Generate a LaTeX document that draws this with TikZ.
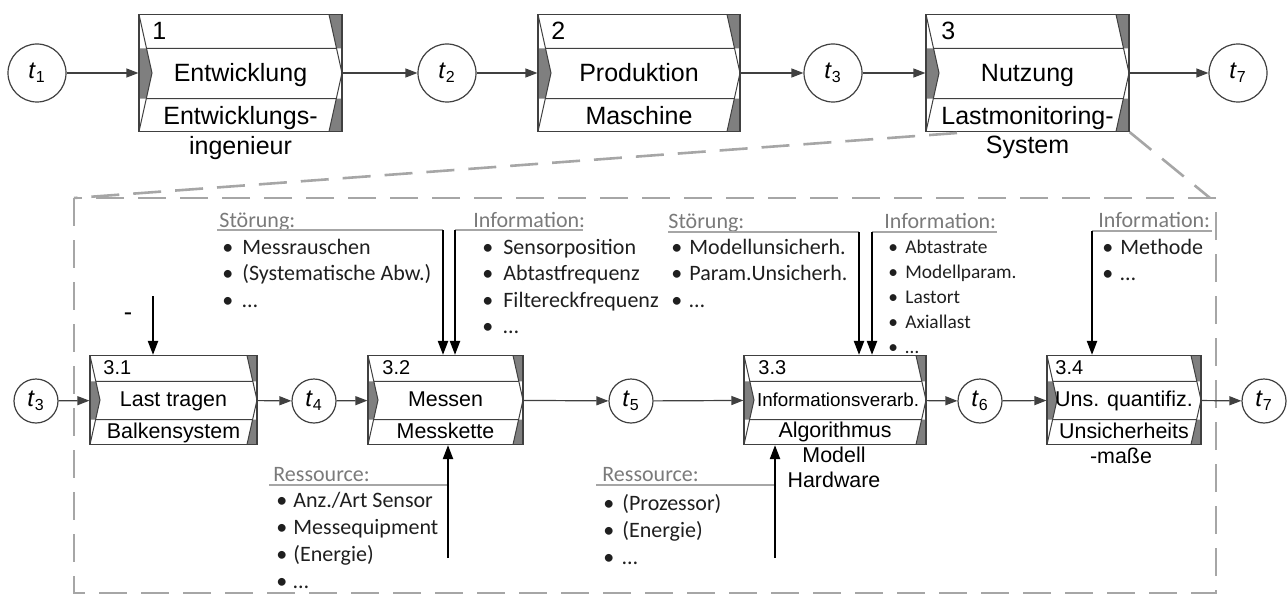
\documentclass[tikz,border=0pt]{standalone}
\usepackage{fontspec}
\setmainfont{Liberation Sans}
\newfontfamily\listfont{Carlito}
\usetikzlibrary{arrows.meta,calc,positioning}

\definecolor{rahmen}{HTML}{404040}
\definecolor{keilgrau}{HTML}{7F7F7F}
\definecolor{lupengrau}{HTML}{A6A6A6}
\definecolor{kopfgrau}{HTML}{7A7A7A}

\newcommand{\pkt}[1][9.5pt]{\makebox[#1][l]{\textbullet}}

\tikzset{
  funktion/.style={draw=rahmen, line width=0.6pt, fill=white, inner sep=0pt,
    path picture={
      \fill[keilgrau] let \p1=(path picture bounding box.north west),
                          \p2=(path picture bounding box.south east),
                          \p3=($(\p1)!.29!(\x1,\y2)$),
                          \p4=($(\p1)!.72!(\x1,\y2)$),
                          \p5=($(\p1)!.5!(\x1,\y2)$) in
        (\x1,\y3) -- ({\x1+.58*#1},\y3) -- ({\x1+#1},\y5) -- ({\x1+.56*#1},\y4) -- (\x1,\y4) -- cycle
        ({\x2-#1},\y1) -- (\x2,\y1) -- (\x2,\y3) -- ({\x2-.42*#1},\y3) -- cycle
        ({\x2-.44*#1},\y4) -- (\x2,\y4) -- (\x2,\y2) -- ({\x2-#1},\y2) -- cycle;
      \draw[rahmen, line width=0.5pt] let \p1=(path picture bounding box.north west),
                          \p2=(path picture bounding box.south east),
                          \p3=($(\p1)!.29!(\x1,\y2)$),
                          \p4=($(\p1)!.72!(\x1,\y2)$),
                          \p5=($(\p1)!.5!(\x1,\y2)$) in
        (\x1,\y1) -- ({\x1+#1},\y5) -- (\x1,\y2)
        ({\x2-#1},\y1) -- (\x2,\y5) -- ({\x2-#1},\y2)
        ({\x1+.58*#1},\y3) -- ({\x2-.42*#1},\y3)
        ({\x1+.56*#1},\y4) -- ({\x2-.44*#1},\y4);
    }},
  ereignis/.style={circle, draw=rahmen, line width=0.6pt, fill=white, inner sep=0pt,
    minimum size=#1, font=\fontsize{12}{14}\selectfont},
  pfeil/.style={draw=rahmen, line width=0.6pt, -{Triangle[length=6pt,width=4.5pt]}},
  zufluss/.style={black, line width=1.1pt, -{Triangle[length=7pt,width=5pt]}},
  lupe/.style={lupengrau, line width=1.3pt, dash pattern=on 14pt off 7pt},
  strich/.style={lupengrau, line width=0.7pt},
  nummer/.style={font=\fontsize{12.5}{14}\selectfont, inner sep=0pt, anchor=base west},
  titel/.style={font=\fontsize{12.5}{14}\selectfont, inner sep=0pt, anchor=base},
  nummerk/.style={font=\fontsize{10}{12}\selectfont, inner sep=0pt, anchor=base west},
  titelk/.style={font=\fontsize{10.7}{12}\selectfont, inner sep=0pt, anchor=base},
  kopf/.style={font=\listfont\fontsize{11}{13}\selectfont, text=kopfgrau, inner sep=0pt, anchor=base west},
  % base anchor = Grundlinie der letzten Zeile
  liste/.style={font=\listfont\fontsize{11}{13.25}\selectfont, text=black!88, align=left,
    inner sep=0pt, anchor=base west},
}

\begin{document}
\begin{tikzpicture}[x=0.5pt, y=-0.5pt]
  \useasboundingbox (0,0) rectangle (1288,599);

  % obere Ebene
  \node[ereignis=29pt] (t1) at (37,73) {\textit{t}\textsubscript{1}};
  \node[funktion=6.5pt, minimum width=101.5pt, minimum height=58.5pt] (f1) at (240.5,73) {};
  \node[ereignis=29pt] (t2) at (447,73) {\textit{t}\textsubscript{2}};
  \node[funktion=6.5pt, minimum width=101pt, minimum height=58.5pt] (f2) at (639,73) {};
  \node[ereignis=29pt] (t3) at (833,73) {\textit{t}\textsubscript{3}};
  \node[funktion=6.5pt, minimum width=101.5pt, minimum height=58.5pt] (f3) at (1027.5,73) {};
  \node[ereignis=29pt] (t7) at (1238,73) {\textit{t}\textsubscript{7}};

  \node[nummer] (n1) at (152,40) {1};
  \node[titel] (a1) at (240.5,82) {Entwicklung};
  \node[titel] (r1) at (240.5,124) {Entwicklungs-};
  \node[titel] (r1b) at (240.5,154) {ingenieur};
  \node[nummer] (n2) at (551,40) {2};
  \node[titel] (a2) at (639,82) {Produktion};
  \node[titel] (r2) at (639,124) {Maschine};
  \node[nummer] (n3) at (941,40) {3};
  \node[titel] (a3) at (1027.5,82) {Nutzung};
  \node[titel] (r3) at (1027.5,124) {Lastmonitoring-};
  \node[titel] (r3b) at (1027.5,153) {System};

  \draw[pfeil] (t1) -- (f1);
  \draw[pfeil] (f1) -- (t2);
  \draw[pfeil] (t2) -- (f2);
  \draw[pfeil] (f2) -- (t3);
  \draw[pfeil] (t3) -- (f3);
  \draw[pfeil] (f3) -- (t7);

  % Lupe auf 3
  \coordinate (lo) at (74,198);
  \coordinate (ro) at (1216,198);
  \draw[lupe] (957,133) -- (lo);
  \draw[lupe] (f3.south east) -- (1210,198);
  \draw[lupe] (lo) -- (74,593) -- (1216,593) -- (ro) -- cycle;

  % untere Ebene
  \node[ereignis=22pt] (t3u) at (36,401) {\textit{t}\textsubscript{3}};
  \node[funktion=5pt, minimum width=83.5pt, minimum height=44.5pt] (f31) at (173.5,400) {};
  \node[ereignis=22pt] (t4) at (314,401) {\textit{t}\textsubscript{4}};
  \node[funktion=5pt, minimum width=77.5pt, minimum height=44.5pt] (f32) at (445.5,400) {};
  \node[ereignis=22pt] (t5) at (631,401) {\textit{t}\textsubscript{5}};
  \node[funktion=5pt, minimum width=91pt, minimum height=44.5pt] (f33) at (835,400) {};
  \node[ereignis=22pt] (t6) at (980,401) {\textit{t}\textsubscript{6}};
  \node[funktion=5pt, minimum width=77pt, minimum height=44.5pt] (f34) at (1124,400) {};
  \node[ereignis=22pt] (t7u) at (1264,401) {\textit{t}\textsubscript{7}};

  \node[nummerk] (n31) at (103,374) {3.1};
  \node[titelk] (a31) at (173.5,406) {Last tragen};
  \node[titelk] (r31) at (173.5,438) {Balkensystem};
  \node[nummerk] (n32) at (382,374) {3.2};
  \node[titelk] (a32) at (445.5,406) {Messen};
  \node[titelk] (r32) at (445.5,438) {Messkette};
  \node[nummerk] (n33) at (758,374) {3.3};
  \node[titelk, font=\fontsize{9.4}{11}\selectfont] (a33) at (838,406) {Informationsverarb.};
  \node[titelk] (r33) at (835,437) {Algorithmus};
  \node[titelk] (r33b) at (834,462) {Modell};
  \node[titelk] (r33c) at (834,487) {Hardware};
  \node[nummerk] (n34) at (1055,374) {3.4};
  \node[titelk] (a34) at (1124,406) {Uns. quantifiz.};
  \node[titelk] (r34) at (1124,438) {Unsicherheits};
  \node[titelk] (r34b) at (1121,463) {-maße};

  \draw[pfeil] (t3u) -- (f31);
  \draw[pfeil] (f31) -- (t4);
  \draw[pfeil] (t4) -- (f32);
  \draw[pfeil] (f32) -- (t5);
  \draw[pfeil] (t5) -- (f33);
  \draw[pfeil] (f33) -- (t6);
  \draw[pfeil] (t6) -- (f34);
  \draw[pfeil] (f34) -- (t7u);

  % Eingaenge oben
  \node[titel] (leer) at (128,320) {-};
  \coordinate (e31) at (153,296);
  \draw[zufluss] (e31) -- (e31 |- f31.north);

  \node[kopf] (h1) at (219,227) {Störung:};
  \coordinate (s32) at (443,230);
  \draw[strich] (217,230) -- (s32);
  \draw[zufluss] (s32) -- (s32 |- f32.north);
  \node[liste] (l1) at (222,307) {\pkt[10pt]Messrauschen\\\pkt[10pt](Systematische Abw.)\\\pkt[10pt]…};

  \node[kopf] (h2) at (473,227) {Information:};
  \coordinate (i32) at (455,230);
  \draw[strich] (i32) -- (583,230);
  \draw[zufluss] (i32) -- (i32 |- f32.north);
  \node[liste] (l2) at (482,333.5) {\pkt[10.5pt]Sensorposition\\\pkt[10.5pt]Abtastfrequenz\\\pkt[10.5pt]Filtereckfrequenz\\\pkt[10.5pt]…};

  \node[kopf] (h3) at (668,228) {Störung:};
  \coordinate (s33) at (859,232);
  \draw[strich] (668,232) -- (s33);
  \draw[zufluss] (s33) -- (s33 |- f33.north);
  \node[liste] (l3) at (671,307) {\pkt[9pt]Modellunsicherh.\\\pkt[9pt]Param.Unsicherh.\\\pkt[9pt]…};

  \node[kopf] (h4) at (884,228) {Information:};
  \coordinate (i33) at (872,232);
  \draw[strich] (i33) -- (997,232);
  \draw[zufluss] (i33) -- (i33 |- f33.north);
  \node[liste, font=\listfont\fontsize{9.7}{12.5}\selectfont] (l4) at (888,353)
    {\pkt[8.5pt]Abtastrate\\\pkt[8.5pt]Modellparam.\\\pkt[8.5pt]Lastort\\\pkt[8.5pt]Axiallast\\\pkt[8.5pt]…};

  \node[kopf] (h5) at (1098,227) {Information:};
  \coordinate (i34) at (1092,231);
  \draw[strich] (i34) -- (1212,231);
  \draw[zufluss] (i34) -- (i34 |- f34.north);
  \node[liste] (l5) at (1102,280.5) {\pkt[9pt]Methode\\\pkt[9pt]…};

  % Ressourcen unten
  \node[kopf] (h6) at (273,481) {Ressource:};
  \coordinate (q32) at (448,558);
  \draw[strich] (269,485) -- (q32 |- 0,485);
  \draw[zufluss] (q32) -- (q32 |- f32.south);
  \node[liste, font=\listfont\fontsize{11}{13.5}\selectfont] (l6) at (276,588)
    {\pkt[8.5pt]Anz./Art Sensor\\\pkt[8.5pt]Messequipment\\\pkt[8.5pt](Energie)\\\pkt[8.5pt]…};

  \node[kopf] (h7) at (602,481) {Ressource:};
  \coordinate (q33) at (775,558);
  \draw[strich] (596,485) -- (q33 |- 0,485);
  \draw[zufluss] (q33) -- (q33 |- f33.south);
  \node[liste, font=\listfont\fontsize{11}{13.5}\selectfont] (l7) at (603,564)
    {\pkt(Prozessor)\\\pkt(Energie)\\\pkt…};
\end{tikzpicture}
\end{document}
